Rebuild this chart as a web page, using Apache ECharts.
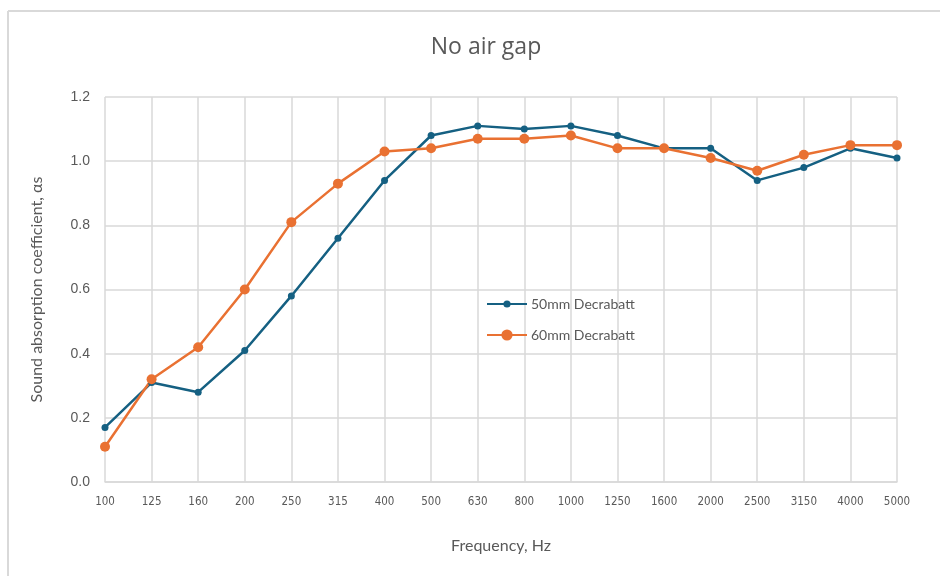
<!DOCTYPE html>
<html>
<head>
<meta charset="utf-8">
<script src="https://cdn.jsdelivr.net/npm/echarts@6/dist/echarts.min.js"></script>
<style>html,body{margin:0;padding:0;background:#fff}#c{width:940px;height:576px}</style>
</head>
<body>
<div id="c"></div>
<script>
const categories = ['100','125','160','200','250','315','400','500','630','800','1000','1250','1600','2000','2500','3150','4000','5000'];
const series50 = [0.17,0.31,0.28,0.41,0.58,0.76,0.94,1.08,1.11,1.10,1.11,1.08,1.04,1.04,0.94,0.98,1.04,1.01];
const series60 = [0.11,0.32,0.42,0.60,0.81,0.93,1.03,1.04,1.07,1.07,1.08,1.04,1.04,1.01,0.97,1.02,1.05,1.05];
const seriesNames = ['50mm Decrabatt','60mm Decrabatt'];

const chart = echarts.init(document.getElementById('c'));
const grey = '#595959';
const legendText = {fontFamily: 'Lato', fontSize: 14, color: grey, padding: [0,0,0,-1]};
chart.setOption({
  animation: false,
  title: {
    text: 'No air gap', left: 481, top: 31, textAlign: 'center',
    textStyle: {fontFamily: 'Open Sans', fontSize: 23, fontWeight: 'normal', color: grey}
  },
  graphic: [
    {type: 'line', shape: {x1: 8, y1: 11, x2: 940, y2: 11}, style: {stroke: '#d9d9d9', lineWidth: 2}},
    {type: 'line', shape: {x1: 8, y1: 11, x2: 8, y2: 576}, style: {stroke: '#d9d9d9', lineWidth: 2}}
  ],
  legend: [
    {left: 481, top: 292, itemWidth: 40, itemHeight: 9, textStyle: legendText, data: [seriesNames[0]]},
    {left: 481, top: 323, itemWidth: 40, itemHeight: 14, textStyle: legendText, data: [seriesNames[1]]}
  ],
  grid: {left: 105, right: 43, top: 97, bottom: 94, containLabel: false},
  xAxis: {
    type: 'category', data: categories, boundaryGap: false,
    name: 'Frequency, Hz', nameLocation: 'middle', nameGap: 56,
    nameTextStyle: {fontFamily: 'Lato', fontSize: 16, color: grey},
    axisLine: {lineStyle: {color: '#d9d9d9', width: 1.5}},
    axisTick: {show: false},
    axisLabel: {fontFamily: 'DejaVu Sans Condensed', fontSize: 11.5, color: grey, margin: 14},
    splitLine: {show: true, lineStyle: {color: '#d9d9d9', width: 1.5}}
  },
  yAxis: {
    type: 'value', min: 0, max: 1.2, interval: 0.2,
    name: 'Sound absorption coefficient, αs', nameLocation: 'middle', nameGap: 60,
    nameTextStyle: {fontFamily: 'Lato', fontSize: 16, color: grey},
    axisLine: {show: false}, axisTick: {show: false},
    axisLabel: {fontFamily: 'Liberation Sans', fontSize: 14, color: grey, margin: 15,
      formatter: v => v.toFixed(1)},
    splitLine: {lineStyle: {color: '#d9d9d9', width: 1.5}}
  },
  series: [
    {name: seriesNames[0], type: 'line', data: series50, symbol: 'circle', symbolSize: 7,
      itemStyle: {color: '#156082'}, lineStyle: {width: 2.5, color: '#156082'}},
    {name: seriesNames[1], type: 'line', data: series60, symbol: 'circle', symbolSize: 10,
      itemStyle: {color: '#E97132'}, lineStyle: {width: 2.5, color: '#E97132'}}
  ]
});
</script>
</body>
</html>
